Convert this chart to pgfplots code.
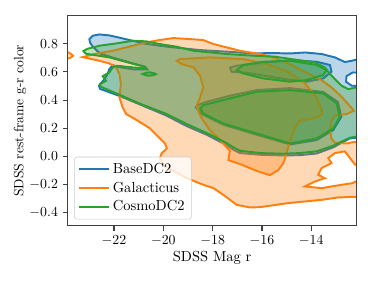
\documentclass[border=0pt]{standalone}
\usepackage{pgfplots}
\pgfplotsset{compat=1.18}
\usetikzlibrary{calc}
\definecolor{cB}{RGB}{31,119,180}
\definecolor{cO}{RGB}{255,127,14}
\definecolor{cG}{RGB}{44,160,44}
\begin{document}
\begin{tikzpicture}[font=\fontsize{10}{12}\selectfont]
\begin{axis}[
  name=ax,
  scale only axis, width=208bp, height=151.2bp,
  xmin=-23.88, xmax=-12.16, ymin=-0.492, ymax=0.999,
  axis on top=true,
  axis line style={black!75, line width=0.8pt},
  tick align=outside, xtick pos=bottom, ytick pos=left,
  major tick length=3.5pt, tick style={black!75, line width=0.8pt},
  xtick={-22,-20,-18,-16,-14},
  ytick={-0.4,-0.2,0,0.2,0.4,0.6,0.8},
  ticklabel style={font=\fontsize{10}{12}\selectfont},
  yticklabel style={/pgf/number format/fixed, /pgf/number format/fixed zerofill, /pgf/number format/precision=1},
  xlabel={SDSS Mag r}, ylabel={SDSS rest-frame g-r color},
  xlabel style={at={(axis description cs:0.5,-0.152)}, anchor=center, font=\fontsize{10.5}{12}\selectfont},
  ylabel style={at={(axis description cs:-0.165,0.5)}, anchor=center, font=\fontsize{9.8}{12}\selectfont},
  legend style={at={(0.022,0.03)}, anchor=south west, draw=black!20, rounded corners=2pt, fill=white, fill opacity=0.8, text opacity=1, font=\fontsize{10.5}{12}\selectfont, row sep=0.6pt, inner xsep=3pt, inner ysep=2.5pt},
  legend cell align=left,
  legend image code/.code={\draw[#1] (0cm,0cm) -- (0.75cm,0cm);},
]
% ---- BaseDC2 ----
\addplot[forget plot, draw=cB, line width=1.4pt, fill=cB, fill opacity=0.3] coordinates {
(-23.00,0.833) (-22.86,0.857) (-22.59,0.866) (-22.19,0.859) (-21.78,0.843) (-21.24,0.821) (-20.81,0.802) (-19.86,0.779) (-18.51,0.755) (-17.16,0.741) (-16.35,0.731) (-15.61,0.734) (-14.86,0.731) (-14.26,0.738) (-13.58,0.727) (-13.04,0.703) (-12.64,0.670) (-12.36,0.679) (-12.09,0.691) (-11.80,0.691) (-11.80,0.594) (-12.32,0.596) (-12.57,0.570) (-12.59,0.530) (-12.36,0.502) (-11.80,0.499) (-11.80,0.135) (-12.43,0.128) (-12.70,0.104) (-13.11,0.064) (-13.78,0.021) (-14.46,0.009) (-15.14,0.007) (-16.08,0.012) (-16.89,0.024) (-17.16,0.047) (-17.43,0.080) (-18.24,0.154) (-19.05,0.215) (-19.89,0.291) (-20.95,0.369) (-21.76,0.428) (-22.57,0.480) (-22.61,0.502) (-22.39,0.549) (-22.26,0.585) (-22.19,0.620) (-22.05,0.649) (-21.89,0.637) (-21.22,0.618) (-20.65,0.618) (-20.74,0.637) (-21.22,0.660) (-21.89,0.693) (-22.57,0.731) (-22.86,0.779) (-22.97,0.807)
} -- cycle;
\addplot[forget plot, draw=cB, line width=1.4pt, fill=cB, fill opacity=0.3] coordinates {
(-17.30,0.630) (-17.23,0.601) (-16.62,0.594) (-15.81,0.570) (-15.00,0.547) (-14.19,0.530) (-13.51,0.554) (-13.18,0.601) (-13.24,0.649) (-13.78,0.672) (-14.86,0.684) (-16.22,0.660) (-17.03,0.644)
} -- cycle;
\addplot[forget plot, draw=cB, line width=1.4pt, fill=cB, fill opacity=0.3] coordinates {
(-18.68,0.348) (-18.45,0.301) (-17.57,0.225) (-16.22,0.154) (-14.86,0.085) (-13.78,0.116) (-13.11,0.187) (-12.78,0.282) (-12.92,0.386) (-13.51,0.457) (-14.86,0.485) (-16.22,0.471) (-17.30,0.431) (-18.24,0.388) (-18.62,0.364)
} -- cycle;
% ---- Galacticus ----
\addplot[forget plot, draw=cO, line width=1.4pt, fill=cO, fill opacity=0.3] coordinates {
(-24.00,0.745) (-23.85,0.738) (-23.72,0.725) (-23.66,0.715) (-23.72,0.705) (-23.85,0.695) (-24.00,0.688)
} -- cycle;
\addplot[forget plot, draw=cO, line width=1.4pt, fill=cO, fill opacity=0.3] coordinates {
(-23.27,0.705) (-22.70,0.731) (-22.05,0.750) (-21.24,0.786) (-20.70,0.809) (-20.16,0.826) (-19.59,0.840) (-18.92,0.833) (-18.38,0.826) (-17.97,0.798) (-17.43,0.774) (-16.89,0.750) (-16.22,0.731) (-15.61,0.708) (-14.93,0.660) (-14.26,0.601) (-13.58,0.542) (-13.18,0.490) (-12.77,0.424) (-12.43,0.357) (-12.27,0.324) (-12.57,0.301) (-13.04,0.291) (-13.18,0.253) (-13.24,0.182) (-13.18,0.128) (-13.04,0.097) (-12.57,0.092) (-12.23,0.104) (-11.80,0.104) (-11.80,-0.050) (-12.22,-0.059) (-12.64,0.036) (-13.04,0.024) (-13.31,-0.012) (-13.18,-0.047) (-13.58,-0.083) (-13.72,-0.130) (-13.45,-0.154) (-13.85,-0.178) (-14.26,-0.213) (-13.58,-0.225) (-12.77,-0.201) (-12.30,-0.189) (-12.22,-0.178) (-11.80,-0.182) (-11.80,-0.284) (-12.91,-0.291) (-13.58,-0.308) (-14.93,-0.331) (-16.08,-0.360) (-16.49,-0.362) (-17.03,-0.343) (-17.57,-0.272) (-17.97,-0.225) (-18.38,-0.201) (-19.05,-0.154) (-19.59,-0.102) (-19.93,-0.073) (-20.14,-0.014) (-20.07,0.021) (-19.86,0.057) (-19.93,0.092) (-20.27,0.151) (-20.54,0.199) (-21.08,0.258) (-21.51,0.301) (-21.65,0.348) (-21.78,0.419) (-21.72,0.514) (-21.78,0.585) (-21.92,0.632) (-22.19,0.660) (-22.59,0.679)
} -- cycle;
\addplot[forget plot, draw=cO, line width=1.4pt, fill=cO, fill opacity=0.3] coordinates {
(-19.46,0.679) (-19.32,0.691) (-18.11,0.703) (-16.76,0.691) (-15.81,0.656) (-15.00,0.606) (-14.32,0.530) (-13.85,0.436) (-13.62,0.353) (-13.54,0.301) (-13.78,0.277) (-14.46,0.253) (-14.66,0.206) (-14.80,0.140) (-14.93,0.069) (-15.04,-0.002) (-15.14,-0.050) (-15.34,-0.097) (-15.68,-0.133) (-16.22,-0.102) (-16.89,-0.054) (-17.36,-0.026) (-17.30,0.040) (-17.70,0.116) (-18.11,0.187) (-18.38,0.253) (-18.54,0.301) (-18.65,0.360) (-18.51,0.419) (-18.38,0.490) (-18.51,0.573) (-18.78,0.632) (-19.26,0.656)
} -- cycle;
% ---- CosmoDC2 ----
\addplot[forget plot, draw=cG, line width=1.4pt, fill=cG, fill opacity=0.3] coordinates {
(-23.24,0.748) (-23.08,0.764) (-22.59,0.786) (-21.92,0.802) (-21.24,0.821) (-20.70,0.817) (-20.16,0.798) (-19.46,0.779) (-18.78,0.750) (-17.43,0.727) (-16.35,0.715) (-15.47,0.708) (-14.80,0.691) (-13.85,0.667) (-13.45,0.632) (-13.24,0.585) (-13.04,0.549) (-12.77,0.502) (-12.50,0.478) (-12.16,0.490) (-11.80,0.490) (-11.80,0.151) (-12.43,0.133) (-12.70,0.111) (-13.11,0.076) (-13.78,0.036) (-14.46,0.024) (-15.14,0.019) (-16.08,0.024) (-16.89,0.040) (-17.16,0.064) (-17.43,0.095) (-18.24,0.166) (-19.05,0.230) (-19.89,0.303) (-20.97,0.376) (-21.78,0.438) (-22.54,0.495) (-22.57,0.514) (-22.32,0.537) (-22.46,0.570) (-22.19,0.596) (-22.05,0.632) (-21.89,0.644) (-21.24,0.632) (-20.70,0.622) (-20.77,0.637) (-21.24,0.658) (-22.19,0.703) (-23.14,0.729)
} -- cycle;
\addplot[forget plot, draw=cG, line width=1.4pt, fill=cG, fill opacity=0.3] coordinates {
(-17.03,0.613) (-16.76,0.649) (-15.95,0.672) (-14.86,0.679) (-13.78,0.649) (-13.38,0.613) (-13.51,0.578) (-14.19,0.542) (-14.86,0.530) (-15.95,0.554) (-16.76,0.589)
} -- cycle;
\addplot[forget plot, draw=cG, line width=1.4pt, fill=cG, fill opacity=0.3] coordinates {
(-18.51,0.341) (-18.38,0.305) (-17.57,0.234) (-16.22,0.163) (-14.86,0.092) (-13.78,0.128) (-13.11,0.199) (-12.84,0.282) (-12.97,0.376) (-13.51,0.447) (-14.86,0.471) (-16.22,0.459) (-17.57,0.400) (-18.38,0.364)
} -- cycle;
\addplot[forget plot, draw=cG, line width=1.4pt, fill=cG, fill opacity=0.3] coordinates {
(-20.84,0.585) (-20.70,0.594) (-20.57,0.597) (-20.40,0.592) (-20.30,0.585) (-20.40,0.577) (-20.57,0.573) (-20.70,0.576)
} -- cycle;
\addlegendimage{cB, line width=1.5pt}\addlegendentry{BaseDC2}
\addlegendimage{cO, line width=1.5pt}\addlegendentry{Galacticus}
\addlegendimage{cG, line width=1.5pt}\addlegendentry{CosmoDC2}
\end{axis}
\pgfresetboundingbox
\path[use as bounding box] ($(ax.south west)+(-48.7bp,-39.1bp)$) rectangle ($(ax.north east)+(12.5bp,11.3bp)$);
\end{tikzpicture}
\end{document}
